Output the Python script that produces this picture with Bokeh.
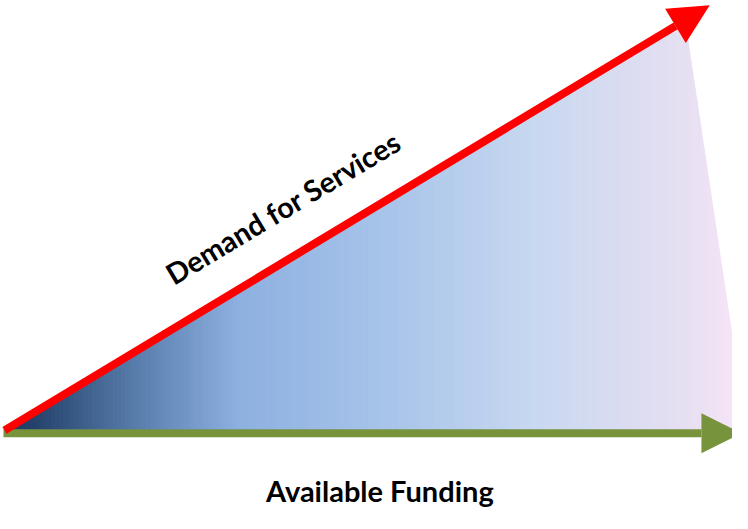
import numpy as np
from bokeh.plotting import figure
from bokeh.models import Range1d, Arrow, NormalHead
from bokeh.core.properties import value
from bokeh.embed import file_html
from bokeh.resources import INLINE

# ---- data (reference pixel coordinates) ----
demand_x = [13, 725]
demand_y = [450, 10]
funding_x = [12, 757]
funding_y = [453, 453]
fill_left = [14, 451]
fill_top = [700, 26]
fill_right = [762, 451]
demand_label = "Demand for Services"
funding_label = "Available Funding"
label_x = [294, 392]
label_y = [219, 512]

# gradient stops (x position, colour)
grad_x = [14, 40, 150, 250, 400, 550, 700, 760]
grad_c = ["#1f3864", "#23406a", "#5a7fae", "#8db0e0", "#a8c4ea", "#c8d8f0", "#e6dff2", "#fae5f7"]

p = figure(width=732, height=513, output_backend="svg", toolbar_location=None,
           x_range=Range1d(9, 748), y_range=Range1d(536, 5),
           min_border=0, outline_line_color=None)
p.axis.visible = False
p.grid.visible = False
p.background_fill_color = "white"
p.border_fill_color = "white"

def hex2rgb(h):
    return np.array([int(h[i:i + 2], 16) for i in (1, 3, 5)], dtype=float)

stops_rgb = np.array([hex2rgb(c) for c in grad_c])

def colour_at(x):
    rgb = [np.interp(x, grad_x, stops_rgb[:, k]) for k in range(3)]
    return "#%02x%02x%02x" % tuple(int(round(v)) for v in rgb)

def top_at(x):
    if x <= fill_top[0]:
        return np.interp(x, [fill_left[0], fill_top[0]], [fill_left[1], fill_top[1]])
    return np.interp(x, [fill_top[0], fill_right[0]], [fill_top[1], fill_right[1]])

bottom = fill_left[1]
edges = np.linspace(fill_left[0], fill_right[0], 180)
xs, ys, cols = [], [], []
for a, b in zip(edges[:-1], edges[1:]):
    px = [a, a]
    py = [bottom, top_at(a)]
    if a < fill_top[0] < b:
        px.append(fill_top[0]); py.append(fill_top[1])
    px += [b, b]
    py += [top_at(b), bottom]
    xs.append(px); ys.append(py); cols.append(colour_at((a + b) / 2))

p.patches(xs=xs, ys=ys, fill_color=cols, line_color=cols, line_width=1)

# funding arrow (green)
p.add_layout(Arrow(end=NormalHead(size=40, fill_color="#77933c", line_color="#77933c", line_width=0),
                   x_start=funding_x[0], y_start=funding_y[0], x_end=funding_x[1], y_end=funding_y[1],
                   line_color="#77933c", line_width=8))

# demand arrow (red)
p.add_layout(Arrow(end=NormalHead(size=40, fill_color="#ff0000", line_color="#ff0000", line_width=0),
                   x_start=demand_x[0], y_start=demand_y[0], x_end=demand_x[1], y_end=demand_y[1],
                   line_color="#ff0000", line_width=8))

p.text(x=[label_x[0]], y=[label_y[0]], text=[demand_label], angle=0.54,
       text_align="center", text_baseline="alphabetic",
       text_font=value("Lato"), text_font_style="bold", text_font_size="29px", text_color="#000000")
p.text(x=[label_x[1]], y=[label_y[1]], text=[funding_label], angle=0,
       text_align="center", text_baseline="alphabetic",
       text_font=value("Lato"), text_font_style="bold", text_font_size="29px", text_color="#000000")

open("out.html", "w").write(file_html(p, INLINE))
